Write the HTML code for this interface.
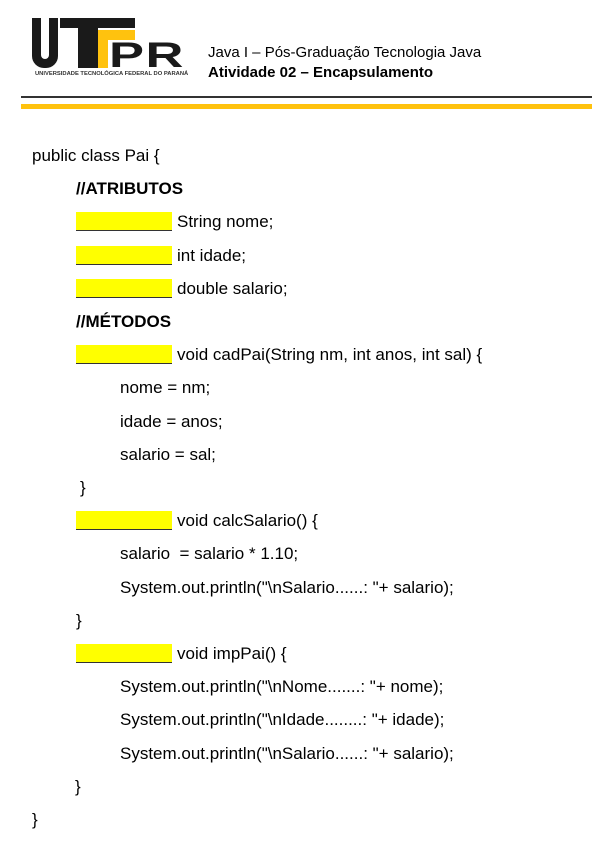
<!DOCTYPE html>
<html><head><meta charset="utf-8"><style>
body{margin:0;width:598px;height:848px;background:#fff;position:relative;overflow:hidden;font-family:"Liberation Sans",Arial,sans-serif;color:#000}
.a{position:absolute;left:0;top:0}
.l{position:absolute;font-size:17px;line-height:20px;white-space:pre}
.y{display:inline-block;width:96px;height:19px;background:#ffff00;border-bottom:1.5px solid #333;vertical-align:-4px;margin-right:5px;box-sizing:border-box}
.h{position:absolute;left:208px;font-size:15px;line-height:18px;white-space:nowrap;font-family:"Liberation Sans",sans-serif}
</style></head><body>
<!-- logo -->
<div class="a" style="left:32px;top:18px;width:26px;height:50px;background:#1a1a1a;border-radius:0 0 12px 12px"></div>
<div class="a" style="left:41px;top:18px;width:8px;height:41px;background:#fff;border-radius:0 0 5px 5px"></div>
<div class="a" style="left:60px;top:18px;width:75px;height:10px;background:#1a1a1a"></div>
<div class="a" style="left:78px;top:28px;width:20px;height:40px;background:#1a1a1a"></div>
<div class="a" style="left:98px;top:30px;width:37px;height:10px;background:#ffc20e"></div>
<div class="a" style="left:98px;top:30px;width:10px;height:38px;background:#ffc20e"></div>
<div class="a" style="left:109px;top:38px;font:bold 35px/35px 'Liberation Sans',sans-serif;color:#1a1a1a;transform:scaleX(1.5);transform-origin:left;letter-spacing:1px">PR</div>
<div class="a" style="left:35px;top:71px;font:bold 5.8px/7px 'Liberation Sans',sans-serif;color:#333;white-space:nowrap">UNIVERSIDADE TECNOLÓGICA FEDERAL DO PARANÁ</div>
<div class="h" style="top:44px">Java I – Pós-Graduação Tecnologia Java</div>
<div class="h" style="top:64px;font-weight:bold">Atividade 02 – Encapsulamento</div>
<div class="a" style="left:21px;top:96px;width:571px;height:1.5px;background:#333"></div>
<div class="a" style="left:21px;top:104px;width:571px;height:5px;background:#ffc20e"></div>

<div class="l" style="left:32px;top:146px">public class Pai {</div>
<div class="l" style="left:76px;top:179px;font-weight:bold">//ATRIBUTOS</div>
<div class="l" style="left:76px;top:212px"><span class="y"></span>String nome;</div>
<div class="l" style="left:76px;top:246px"><span class="y"></span>int idade;</div>
<div class="l" style="left:76px;top:279px"><span class="y"></span>double salario;</div>
<div class="l" style="left:76px;top:312px;font-weight:bold">//MÉTODOS</div>
<div class="l" style="left:76px;top:345px"><span class="y"></span>void cadPai(String nm, int anos, int sal) {</div>
<div class="l" style="left:120px;top:378px">nome = nm;</div>
<div class="l" style="left:120px;top:412px">idade = anos;</div>
<div class="l" style="left:120px;top:445px">salario = sal;</div>
<div class="l" style="left:80px;top:478px">}</div>
<div class="l" style="left:76px;top:511px"><span class="y"></span>void calcSalario() {</div>
<div class="l" style="left:120px;top:544px">salario  = salario * 1.10;</div>
<div class="l" style="left:120px;top:578px">System.out.println("\nSalario......: "+ salario);</div>
<div class="l" style="left:76px;top:611px">}</div>
<div class="l" style="left:76px;top:644px"><span class="y"></span>void impPai() {</div>
<div class="l" style="left:120px;top:677px">System.out.println("\nNome.......: "+ nome);</div>
<div class="l" style="left:120px;top:710px">System.out.println("\nIdade........: "+ idade);</div>
<div class="l" style="left:120px;top:744px">System.out.println("\nSalario......: "+ salario);</div>
<div class="l" style="left:75px;top:777px">}</div>
<div class="l" style="left:32px;top:810px">}</div>
</body></html>
